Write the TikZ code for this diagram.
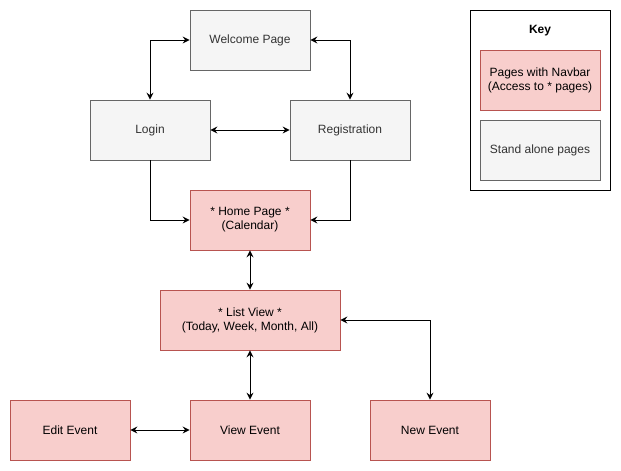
\documentclass[tikz,border=0pt]{standalone}
\usepackage{fontspec}
\setmainfont{Liberation Sans}
\usetikzlibrary{arrows.meta,positioning}

\definecolor{greyfill}{HTML}{F5F5F5}
\definecolor{greyline}{HTML}{666666}
\definecolor{greytext}{HTML}{333333}
\definecolor{redfill}{HTML}{F8CECC}
\definecolor{redline}{HTML}{B85450}

\begin{document}
\begin{tikzpicture}[x=1pt,y=-1pt,>={Stealth[length=7pt,width=7pt,inset=2.5pt]},
  line width=1pt,font=\fontsize{12}{14}\selectfont,
  page/.style={rectangle,draw,line width=0.8pt,minimum width=120pt,minimum height=60pt,align=center,inner sep=0pt},
  alone page/.style={page,fill=greyfill,draw=greyline,text=greytext},
  nav page/.style={page,fill=redfill,draw=redline,text=black}]

  \useasboundingbox (0,0) rectangle (621,471);

  \node[alone page] (welcome) at (250,40) {Welcome Page};
  \node[alone page] (login) at (150,130) {Login};
  \node[alone page] (reg) at (350,130) {Registration};
  \node[nav page] (home) at (250,220) {* Home Page *\\(Calendar)};
  \node[nav page,minimum width=180pt] (list) at (250,320) {* List View *\\(Today, Week, Month, All)};
  \node[nav page] (view) at (250,430) {View Event};
  \node[nav page] (edit) at (70,430) {Edit Event};
  \node[nav page] (new) at (430,430) {New Event};

  % key
  \node[draw=black,line width=0.8pt,minimum width=140pt,minimum height=180pt] (key) at (540,100) {};
  \node[font=\fontsize{12}{14}\selectfont\bfseries] (keytitle) at (540,31) {Key};
  \node[nav page] (keynav) at (540,80) {Pages with Navbar\\(Access to * pages)};
  \node[alone page] (keyalone) at (540,150) {Stand alone pages};

  \draw[<->] (welcome.west) -| (login.north);
  \draw[<->] (welcome.east) -| (reg.north);
  \draw[<->] (login) -- (reg);
  \draw[->] (login.south) |- (home.west);
  \draw[->] (reg.south) |- (home.east);
  \draw[<->] (home) -- (list);
  \draw[<->] (list) -- (view);
  \draw[<->] (edit) -- (view);
  \draw[<->] (list.east) -| (new.north);
\end{tikzpicture}
\end{document}
